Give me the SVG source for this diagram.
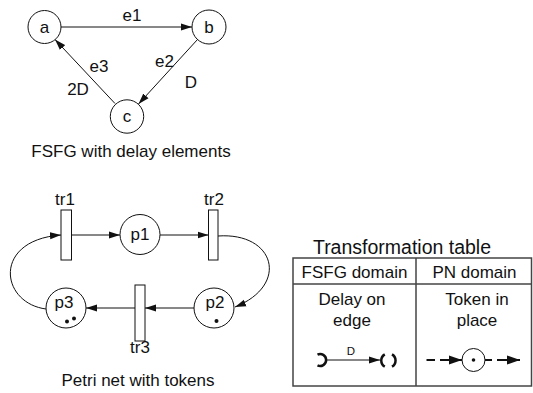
<svg xmlns="http://www.w3.org/2000/svg" width="533" height="393" viewBox="0 0 533 393">
<style>
text{font-family:"Liberation Sans",Arial,sans-serif;font-size:17px;fill:#111;text-anchor:middle}
.n{fill:#fff;stroke:#111;stroke-width:1}
.e{fill:none;stroke:#111;stroke-width:1}
.t{fill:none;stroke:#444;stroke-width:1.5}
.tok{fill:#111}
.thick{fill:none;stroke:#111;stroke-width:2.5}
</style>
<defs>
<marker id="ah" markerUnits="userSpaceOnUse" markerWidth="12" markerHeight="8" refX="11" refY="4" orient="auto">
<path d="M0,0.5 L11,4 L0,7.5 z" fill="#111"/>
</marker>
<marker id="ahs" markerUnits="userSpaceOnUse" markerWidth="14" markerHeight="10" refX="13" refY="5" orient="auto">
<path d="M0,0.5 L13,5 L0,9.5 z" fill="#111"/>
</marker>
</defs>

<g id="connectors">
<line class="e" x1="61" y1="27" x2="192" y2="27" marker-end="url(#ah)"/>
<line class="e" x1="197.5" y1="39.5" x2="138.5" y2="104" marker-end="url(#ah)"/>
<line class="e" x1="115" y1="103.5" x2="55" y2="39.5" marker-end="url(#ah)"/>
<line class="e" x1="71" y1="235" x2="120" y2="235" marker-end="url(#ah)"/>
<line class="e" x1="160" y1="235" x2="208.5" y2="235" marker-end="url(#ah)"/>
<path class="e" d="M218,236 C275,232 290,285 235,307" marker-end="url(#ah)"/>
<line class="e" x1="194" y1="308" x2="145" y2="308" marker-end="url(#ah)"/>
<line class="e" x1="135" y1="308" x2="86" y2="308" marker-end="url(#ah)"/>
<path class="e" d="M46,309 C0,303 -8,240 61,235" marker-end="url(#ah)"/>
</g>

<g id="label-e1"><text x="132" y="21">e1</text></g>
<g id="label-e2"><text x="164.5" y="67">e2</text><text x="191" y="88">D</text></g>
<g id="label-e3"><text x="99" y="72">e3</text><text x="78" y="95">2D</text></g>

<g id="node-a"><circle class="n" cx="44.5" cy="27" r="16.5"/><text x="44.5" y="32.5">a</text></g>
<g id="node-b"><circle class="n" cx="209" cy="27" r="17"/><text x="209" y="32.5">b</text></g>
<g id="node-c"><circle class="n" cx="127" cy="116.5" r="16.7"/><text x="127" y="122">c</text></g>

<g id="caption-fsfg"><text x="131" y="157">FSFG with delay elements</text></g>

<g id="tr1"><rect class="n" x="61" y="210" width="10.5" height="50"/><text x="65" y="205">tr1</text></g>
<g id="tr2"><rect class="n" x="208.5" y="210" width="9.5" height="50"/><text x="214" y="205">tr2</text></g>
<g id="tr3"><rect class="n" x="135" y="285" width="10" height="56"/><text x="140" y="353">tr3</text></g>
<g id="p1"><circle class="n" cx="140" cy="234.5" r="20"/><text x="140" y="240">p1</text></g>
<g id="p2"><circle class="n" cx="214" cy="308" r="20"/><text x="215" y="308">p2</text><circle class="tok" cx="216.5" cy="321" r="2"/></g>
<g id="p3"><circle class="n" cx="66" cy="308" r="20"/><text x="64" y="308">p3</text><circle class="tok" cx="67" cy="321.5" r="2"/><circle class="tok" cx="74" cy="318.5" r="2"/></g>

<g id="caption-pn"><text x="138" y="386">Petri net with tokens</text></g>

<g id="table">
<text x="402" y="254" style="font-size:19.5px">Transformation table</text>
<rect class="t" x="293" y="258" width="238.5" height="128"/>
<line class="t" x1="293" y1="284" x2="531.5" y2="284"/>
<line class="t" x1="416" y1="258" x2="416" y2="386"/>
<text x="354.5" y="278">FSFG domain</text>
<text x="474.5" y="278">PN domain</text>
<text x="352" y="305">Delay on</text>
<text x="352" y="326">edge</text>
<text x="477" y="305">Token in</text>
<text x="477" y="326">place</text>
<g id="icon-delay">
<path class="thick" d="M317.5,354.6 A6,6 0 1 1 317.5,365.4"/>
<line class="e" x1="326" y1="360" x2="380" y2="360" marker-end="url(#ah)"/>
<text x="351" y="355" style="font-size:11.5px">D</text>
<path class="thick" d="M384.8,354.3 A7.2,7.2 0 0 0 384.8,366.7"/>
<path class="thick" d="M392,354.3 A7.2,7.2 0 0 1 392,366.7"/>
</g>
<g id="icon-token">
<line x1="426.5" y1="360" x2="435" y2="360" stroke="#111" stroke-width="2"/>
<line x1="440" y1="360" x2="462" y2="360" stroke="#111" stroke-width="2" marker-end="url(#ahs)"/>
<circle class="n" cx="473.5" cy="360" r="11.5"/>
<circle class="tok" cx="473.5" cy="360" r="1.8"/>
<line x1="485" y1="360" x2="492" y2="360" stroke="#111" stroke-width="2"/>
<line x1="497" y1="360" x2="520" y2="360" stroke="#111" stroke-width="2" marker-end="url(#ahs)"/>
</g>
</g>
</svg>
